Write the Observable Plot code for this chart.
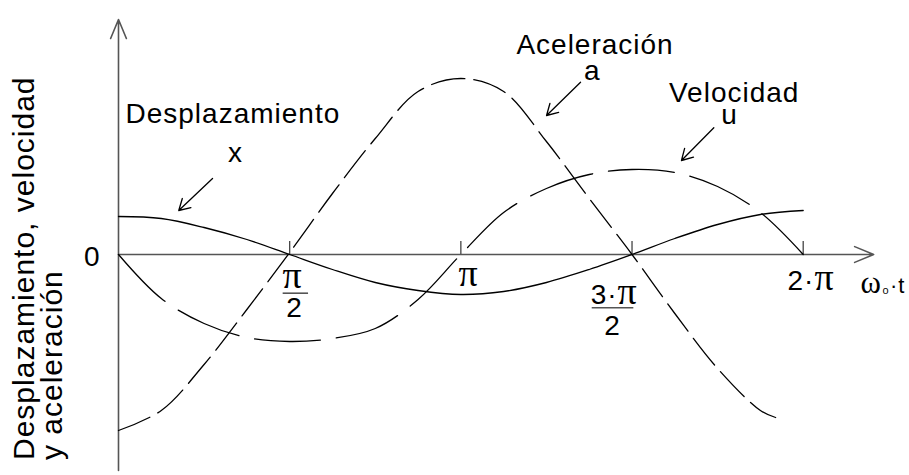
<!DOCTYPE html>
<html>
<head>
<meta charset="utf-8">
<script src="https://cdn.jsdelivr.net/npm/d3@7"></script>
<script src="https://cdn.jsdelivr.net/npm/@observablehq/plot@0.6"></script>
<style>
  html, body { margin: 0; padding: 0; background: #fff; }
  #chart svg { display: block; }
  #chart svg text { letter-spacing: 1px; }
</style>
</head>
<body>
<div id="chart"></div>
<script>
const PI = Math.PI;

// Phase ω0·t sampled every π/8 over one period
const stepsOfPiOver8 = [0, 1, 2, 3, 4, 5, 6, 7, 8, 9, 10, 11, 12, 13, 14, 15, 16];
const phase = stepsOfPiOver8.map(k => k * PI / 8);

// Displacement x (solid), velocity u and acceleration a (dashed), same arbitrary units
const displacement = [38, 36, 27, 15, 0, -15, -28, -36, -40, -37, -28, -15, 0, 16, 30, 40, 44];
const velocity     = [0, -44, -69, -83, -87, -84, -74, -45, 0, 42, 66, 80, 85, 82, 68, 42, 0];
const accelerationPhase = [...phase.slice(0, 16), 6.03];
const acceleration = [-176, -156, -110, -55, 2, 61, 116, 163, 176, 163, 113, 56, 0, -59, -114, -156, -163];

// Axis ticks on the phase axis
const tickPhase = [PI / 2, PI, 3 * PI / 2, 2 * PI];
const tickLength = 13;

// Axis extents (phase in radians, value in chart units)
const xAxisEnd = 6.93;
const yAxisBottom = -216;
const yAxisTop = 235;

// Tick label pieces: numerators, denominators and fraction bars
const tickTexts = [
  {x: 1.597, y: -33, text: "π"},
  {x: 1.615, y: -62, text: "2"},
  {x: 3.212, y: -31, text: "π"},
  {x: 4.549, y: -49, text: "3·π"},
  {x: 4.533, y: -80, text: "2"},
  {x: 6.355, y: -35, text: "2·π"}
];
const fractionBars = [
  {x1: 1.511, x2: 1.744, y: -38.7},
  {x1: 4.347, x2: 4.729, y: -53.3}
];

// Curve names and the arrows pointing at them
const leftLabel = [{x: 0.064, y: 131.7, text: "Desplazamiento"}];
const curveLabels = [
  {x: 1.074, y: 92.3, text: "x"},
  {x: 4.373, y: 200.7, text: "Aceleración"},
  {x: 4.347, y: 174.7, text: "a"},
  {x: 5.650, y: 152.3, text: "Velocidad"},
  {x: 5.607, y: 130.8, text: "u"}
];
const pointers = [
  {x1: 0.863, y1: 76, x2: 0.553, y2: 44},
  {x1: 4.240, y1: 172.3, x2: 3.928, y2: 139},
  {x1: 5.463, y1: 126.7, x2: 5.166, y2: 94}
];

const yTitle = "Desplazamiento, velocidad\ny aceleración";

const series = (xs, ys) => xs.map((x, i) => ({x, y: ys[i]}));

const chart = Plot.plot({
  width: 909,
  height: 475,
  margin: 0,
  style: {background: "#fff", fontFamily: "'Liberation Sans', Arial, sans-serif", overflow: "visible"},
  x: {domain: [0, 2 * PI], range: [118, 802.7], axis: null},
  y: {domain: [-200, 200], range: [454, 54], axis: null},
  marks: [
    // axes with arrowheads
    Plot.arrow([{x1: 0, y1: 0, x2: xAxisEnd, y2: 0}], {
      x1: "x1", y1: "y1", x2: "x2", y2: "y2",
      stroke: "#555", strokeWidth: 1.6, headAngle: 45, headLength: 19.3
    }),
    Plot.arrow([{x1: 0, y1: yAxisBottom, x2: 0, y2: yAxisTop}], {
      x1: "x1", y1: "y1", x2: "x2", y2: "y2",
      stroke: "#555", strokeWidth: 1.6, headAngle: 45, headLength: 19.3
    }),
    Plot.ruleX(tickPhase, {x: d => d, y1: 0, y2: tickLength, stroke: "#444", strokeWidth: 1.3}),

    // the three curves
    Plot.line(series(phase, displacement), {
      x: "x", y: "y", curve: "catmull-rom", stroke: "#000", strokeWidth: 1.3
    }),
    Plot.line(series(phase, velocity), {
      x: "x", y: "y", curve: "catmull-rom", stroke: "#000", strokeWidth: 1.3,
      strokeDasharray: "66,16"
    }),
    Plot.line(series(accelerationPhase, acceleration), {
      x: "x", y: "y", curve: "catmull-rom", stroke: "#000", strokeWidth: 1.3,
      strokeDasharray: "34,9"
    }),

    // tick labels
    Plot.text(["0"], {x: -0.165, y: -11, text: d => d, textAnchor: "end", lineAnchor: "bottom", fontSize: 28, fill: "#000"}),
    Plot.text(tickTexts, {x: "x", y: "y", text: "text", textAnchor: "middle", lineAnchor: "bottom", fontSize: 28, fill: "#000"}),
    Plot.ruleY(fractionBars, {x1: "x1", x2: "x2", y: "y", stroke: "#555", strokeWidth: 1.6}),
    Plot.text(["ω₀·t"], {x: 6.809, y: -38, text: d => d, textAnchor: "start", lineAnchor: "bottom", fontSize: 22, fill: "#000"}),

    // curve names and pointers
    Plot.text(leftLabel, {x: "x", y: "y", text: "text", textAnchor: "start", lineAnchor: "bottom", fontSize: 28, fill: "#000"}),
    Plot.text(curveLabels, {x: "x", y: "y", text: "text", textAnchor: "middle", lineAnchor: "bottom", fontSize: 28, fill: "#000"}),
    Plot.arrow(pointers, {
      x1: "x1", y1: "y1", x2: "x2", y2: "y2",
      stroke: "#000", strokeWidth: 1.3, headAngle: 60, headLength: 14.4
    }),

    // vertical title
    Plot.text([yTitle], {
      frameAnchor: "left", dx: 61, dy: 222, text: d => d, rotate: -90,
      textAnchor: "start", lineAnchor: "bottom", lineHeight: 0.93, fontSize: 30, fill: "#000"
    })
  ]
});

// Greek letters are set in a thin serif face
d3.select(chart).selectAll("text").each(function () {
  const targets = this.querySelectorAll("tspan").length ? Array.from(this.querySelectorAll("tspan")) : [this];
  for (const el of targets) {
    const s = el.textContent;
    if (!/[πω]/.test(s)) continue;
    el.textContent = "";
    for (const part of s.split(/([πω₀])/)) {
      if (!part) continue;
      const t = document.createElementNS("http://www.w3.org/2000/svg", "tspan");
      t.textContent = part;
      if (part === "π") { t.setAttribute("font-family", "'Liberation Serif', serif"); t.setAttribute("font-size", "38"); }
      if (part === "ω") { t.setAttribute("font-family", "'Liberation Serif', serif"); t.setAttribute("font-size", "31"); }
      if (part === "₀") { t.setAttribute("font-size", "17"); }
      el.appendChild(t);
    }
  }
});

document.getElementById("chart").appendChild(chart);
</script>
</body>
</html>
